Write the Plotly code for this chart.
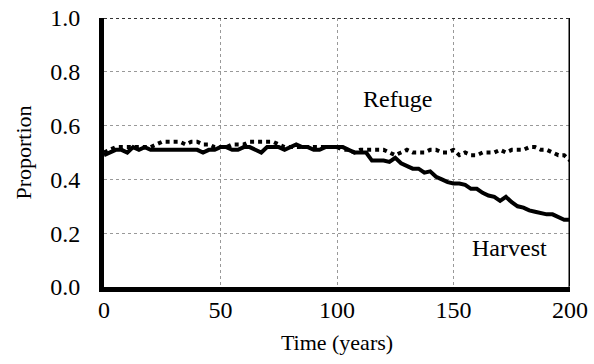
import plotly.graph_objects as go

time_years = [i * 2.5 for i in range(81)]

harvest = [0.49, 0.50, 0.51, 0.51, 0.50, 0.52, 0.51, 0.52, 0.51, 0.51,
           0.51, 0.51, 0.51, 0.51, 0.51, 0.51, 0.51, 0.50, 0.51, 0.51,
           0.52, 0.52, 0.51, 0.51, 0.52, 0.52, 0.51, 0.50, 0.52, 0.52,
           0.52, 0.51, 0.52, 0.53, 0.52, 0.52, 0.51, 0.51, 0.52, 0.52,
           0.52, 0.52, 0.51, 0.50, 0.50, 0.50, 0.47, 0.47, 0.47, 0.465,
           0.48, 0.46, 0.45, 0.44, 0.44, 0.425, 0.43, 0.41, 0.40, 0.39,
           0.385, 0.385, 0.38, 0.365, 0.365, 0.35, 0.34, 0.335, 0.32, 0.335,
           0.315, 0.30, 0.295, 0.285, 0.28, 0.275, 0.27, 0.27, 0.26, 0.25, 0.25]

refuge = [0.50, 0.51, 0.52, 0.52, 0.52, 0.52, 0.52, 0.52, 0.52, 0.53,
          0.54, 0.54, 0.54, 0.54, 0.53, 0.54, 0.54, 0.53, 0.53, 0.52,
          0.52, 0.52, 0.53, 0.53, 0.53, 0.54, 0.54, 0.54, 0.54, 0.54,
          0.53, 0.52, 0.52, 0.52, 0.52, 0.52, 0.52, 0.52, 0.52, 0.52,
          0.52, 0.51, 0.51, 0.50, 0.51, 0.51, 0.51, 0.51, 0.51, 0.50,
          0.49, 0.50, 0.51, 0.50, 0.50, 0.50, 0.51, 0.51, 0.50, 0.50,
          0.51, 0.49, 0.50, 0.49, 0.49, 0.50, 0.50, 0.50, 0.51, 0.50,
          0.51, 0.51, 0.51, 0.52, 0.52, 0.51, 0.51, 0.50, 0.49, 0.49, 0.47]

x_ticks = [0, 50, 100, 150, 200]
y_ticks = [0.0, 0.2, 0.4, 0.6, 0.8, 1.0]
y_tick_labels = ["0.0", "0.2", "0.4", "0.6", "0.8", "1.0"]

ff = "Liberation Serif"

fig = go.Figure()
fig.add_trace(go.Scatter(x=time_years, y=refuge, mode="lines",
                         line=dict(color="black", width=4, dash="dot"),
                         name="Refuge", showlegend=False))
fig.add_trace(go.Scatter(x=time_years, y=harvest, mode="lines",
                         line=dict(color="black", width=4),
                         name="Harvest", showlegend=False))

fig.add_shape(type="line", xref="x", yref="y", x0=200, x1=200, y0=0, y1=1,
              line=dict(color="black", width=3))
fig.add_shape(type="line", xref="x", yref="y", x0=0, x1=200, y0=1, y1=1,
              line=dict(color="#333", width=2, dash="dot"))
fig.add_shape(type="line", xref="x", yref="y", x0=1.5, x1=200, y0=0, y1=0,
              line=dict(color="white", width=1.5, dash="dot"))

fig.add_annotation(x=126, y=0.70, text="Refuge", showarrow=False,
                   font=dict(family=ff, size=24, color="black"))
fig.add_annotation(x=174, y=0.145, text="Harvest", showarrow=False,
                   font=dict(family=ff, size=24, color="black"))

fig.update_layout(
    width=594, height=364,
    margin=dict(l=104, r=24, t=18, b=77),
    paper_bgcolor="white", plot_bgcolor="white",
    font=dict(family=ff, size=20, color="black"),
    xaxis=dict(range=[0, 200], tickvals=x_ticks, ticks="", showline=True,
               linecolor="black", linewidth=5, showgrid=True,
               gridcolor="#999", griddash="dot", gridwidth=1,
               zeroline=False, automargin=False, ticklabelstandoff=-3,
               ticklabeloverflow="allow",
               title=dict(text="Time (years)", standoff=14,
                          font=dict(family=ff, size=22)),
               tickfont=dict(family=ff, size=24)),
    yaxis=dict(range=[0, 1], tickvals=y_ticks, ticktext=y_tick_labels,
               ticks="", showline=True, linecolor="black", linewidth=5,
               showgrid=True, gridcolor="#999", griddash="dot", gridwidth=1,
               zeroline=False, automargin=False, ticklabelstandoff=14,
               ticklabeloverflow="allow",
               title=dict(text="Proportion", standoff=14,
                          font=dict(family=ff, size=22)),
               tickfont=dict(family=ff, size=24)),
)

fig.write_html("out.html", config={"displayModeBar": False},
               post_script="document.body.style.margin='0';")
